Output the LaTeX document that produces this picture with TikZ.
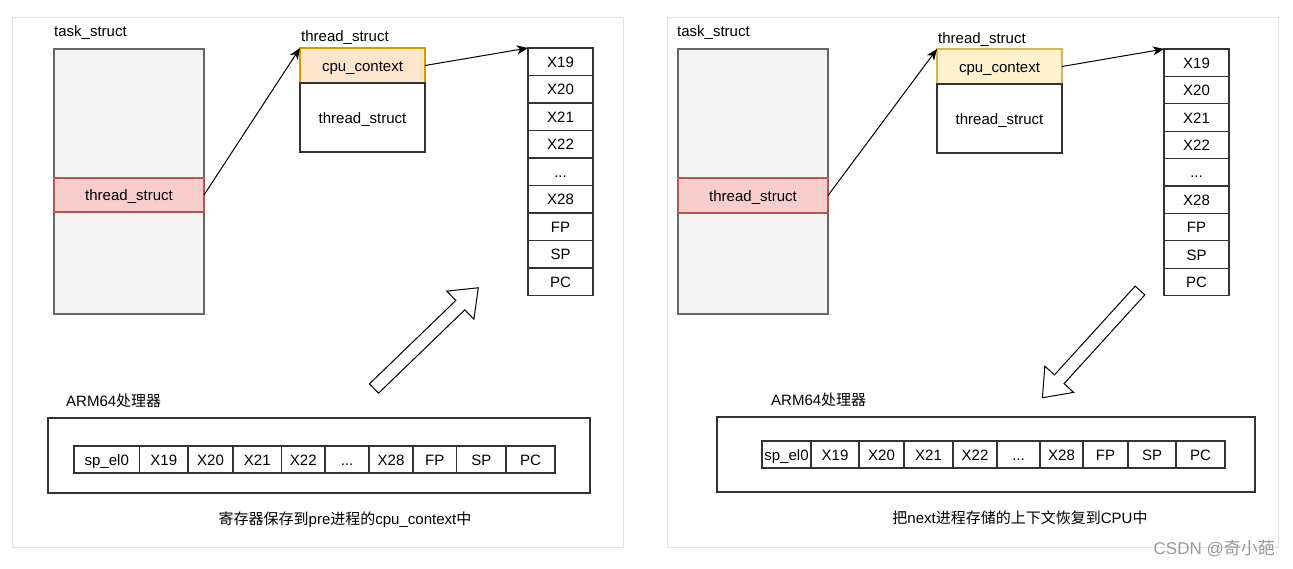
\documentclass[tikz,border=0pt]{standalone}
\usepackage{fontspec}
\setmainfont{Liberation Sans}
\newfontfamily\cjk{Noto Sans CJK SC}
\usetikzlibrary{arrows.meta}
\newcommand{\zh}[1]{{\cjk #1}}
\newcommand{\regdots}{...}
\definecolor{taskfill}{HTML}{F5F5F5}
\definecolor{taskline}{HTML}{666666}
\definecolor{pinkfill}{HTML}{F8CECC}
\definecolor{pinkline}{HTML}{B85450}
\definecolor{orangefill}{HTML}{FFE6CC}
\definecolor{orangeline}{HTML}{D79B00}
\definecolor{yellowfill}{HTML}{FFF2CC}
\definecolor{yellowline}{HTML}{D6B656}

\begin{document}
\begin{tikzpicture}[x=1pt, y=-1pt, font=\fontsize{15}{18}\selectfont,
    panel/.style={draw=black!11, line width=1pt},
    box/.style={draw=black!80, line width=1.3pt, inner sep=0pt, outer sep=0pt, anchor=north west,
      text height=11pt, text depth=0pt},
    label/.style={anchor=west, inner sep=0pt, text height=11pt, text depth=0pt},
    caption/.style={inner sep=0pt, text height=11pt, text depth=0pt},
    link/.style={-{Stealth[length=11pt,width=9pt,inset=3pt]}, line width=1pt},
    bigarrow/.style={draw=black, line width=1pt, fill=white, line join=miter}]

  \useasboundingbox (0,0) rectangle (1293,568);

  % ---- left: save registers into prev ----
  \draw[panel] (12,17) rectangle (623,547);
  \node[label] (tasklabL) at (54,31) {task\_struct};
  \node[box, fill=taskfill, draw=taskline, minimum width=150, minimum height=265] (taskL) at (54,49) {};
  \node[box, fill=pinkfill, draw=pinkline, minimum width=150, minimum height=34] (pinkL) at (54,178) {thread\_struct};

  \node[label] (thrlabL) at (301,36) {thread\_struct};
  \node[box, fill=orangefill, draw=orangeline, minimum width=125, minimum height=35] (cpuL) at (300,48) {cpu\_context};
  \node[box, minimum width=125, minimum height=69] (thrL) at (300,83) {thread\_struct};

  \foreach \r [count=\i] in {X19,X20,X21,X22,\regdots,X28,FP,SP,PC}
    \node[box, minimum width=65, minimum height=27.5] (lreg\i) at (528,{48+(\i-1)*27.5}) {\r};

  \draw[link] (pinkL.east) -- (cpuL.north west);
  \draw[link] (cpuL.east) -- (lreg1.north west);

  \draw[bigarrow, shift={(374,388.5)}, rotate=44]
    (0,-6.5) -- (120,-6.5) -- (120,-19.5) -- (145,0) -- (120,19.5) -- (120,6.5) -- (0,6.5) -- cycle;

  \node[label] (armlabL) at (66,401) {ARM64\zh{处理器}};
  \draw[box] (48,418) rectangle (590,493);
  \foreach \t/\a/\b [count=\i] in {sp\_el0/74/139.5, X19/139.5/188, X20/188/233, X21/233/281.5,
      X22/281.5/325, \regdots/325/369, X28/369/413, FP/413/456.5, SP/456.5/506, PC/506/555}
    \node[box, minimum width={\b-\a}, minimum height=27] (lrow\i) at (\a,446) {\t};

  \node[caption] (capL) at (345,519) {\zh{寄存器保存到}pre\zh{进程的}cpu\_context\zh{中}};

  % ---- right: restore next ----
  \draw[panel] (667,17) rectangle (1278,547);
  \node[label] (tasklabR) at (677,31) {task\_struct};
  \node[box, fill=taskfill, draw=taskline, minimum width=150, minimum height=265] (taskR) at (678,49) {};
  \node[box, fill=pinkfill, draw=pinkline, minimum width=150, minimum height=35] (pinkR) at (678,178) {thread\_struct};

  \node[label] (thrlabR) at (938,38) {thread\_struct};
  \node[box, fill=yellowfill, draw=yellowline, minimum width=125, minimum height=35] (cpuR) at (937,49) {cpu\_context};
  \node[box, minimum width=125, minimum height=69] (thrR) at (937,84) {thread\_struct};

  \foreach \r [count=\i] in {X19,X20,X21,X22,\regdots,X28,FP,SP,PC}
    \node[box, minimum width=65, minimum height=27.4] (rreg\i) at (1164,{49+(\i-1)*27.4}) {\r};

  \draw[link] (pinkR.east) -- (cpuR.north west);
  \draw[link] (cpuR.east) -- (rreg1.north west);

  \draw[bigarrow, shift={(1140,290.5)}, rotate=-132.3]
    (0,-6.5) -- (120,-6.5) -- (120,-19.5) -- (145,0) -- (120,19.5) -- (120,6.5) -- (0,6.5) -- cycle;

  \node[label] (armlabR) at (771,400) {ARM64\zh{处理器}};
  \draw[box] (717,417) rectangle (1255,492);
  \foreach \t/\a/\b [count=\i] in {sp\_el0/762/811, X19/811/859, X20/859/904, X21/904/953,
      X22/953/997, \regdots/997/1040, X28/1040/1083, FP/1083/1128, SP/1128/1176, PC/1176/1225}
    \node[box, minimum width={\b-\a}, minimum height=27] (rrow\i) at (\a,441) {\t};

  \node[caption] (capR) at (1020,518) {\zh{把}next\zh{进程存储的上下文恢复到}CPU\zh{中}};

  \node[anchor=east, inner sep=0pt, text=black!40, font=\fontsize{17}{20}\selectfont] (mark) at (1275,549) {CSDN @\zh{奇小葩}};
\end{tikzpicture}
\end{document}
